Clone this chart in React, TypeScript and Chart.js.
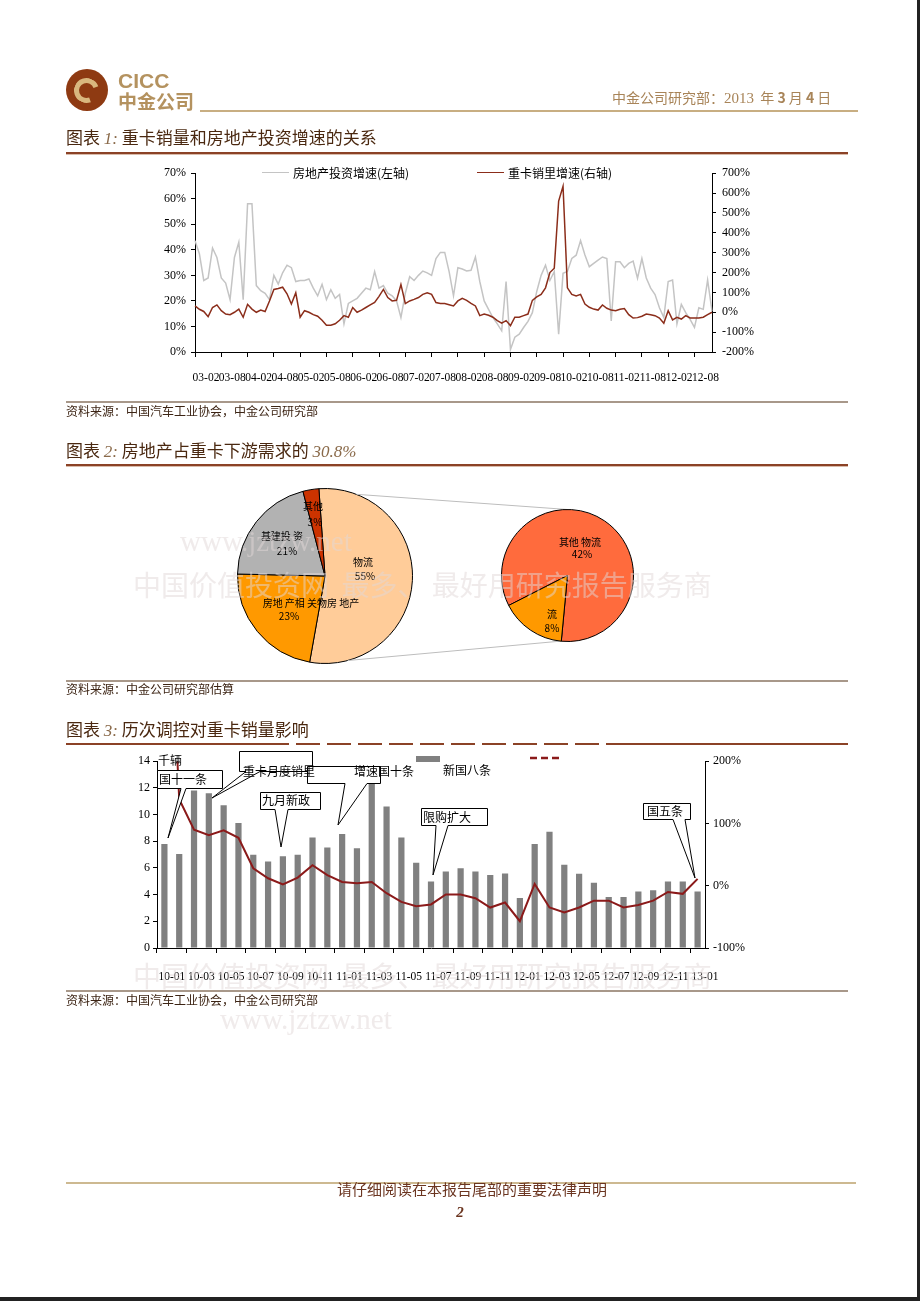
import React, { useEffect, useRef } from "react";
import { Chart, registerables } from "chart.js";

Chart.register(...registerables);

const SERIF = "'Liberation Serif', 'Times New Roman', serif";
const CJK = "'Noto Sans CJK SC', 'Noto Sans', sans-serif";

function buildMonths(y0: number, m0: number, n: number): string[] {
  const out: string[] = [];
  for (let k = 0; k < n; k++) {
    const t = m0 - 1 + k;
    const y = y0 + Math.floor(t / 12);
    const m = (t % 12) + 1;
    out.push(String(y % 100).padStart(2, "0") + "-" + String(m).padStart(2, "0"));
  }
  return out;
}

// ---------- Chart 1: monthly, 2003-02 .. 2012-12 ----------
const c1Months = buildMonths(2003, 2, 119);
const c1TickLabels = ["03-02", "03-08", "04-02", "04-08", "05-02", "05-08", "06-02", "06-08", "07-02", "07-08", "08-02", "08-08", "09-02", "09-08", "10-02", "10-08", "11-02", "11-08", "12-02", "12-08"];
// 房地产投资增速 (left axis, %)
const c1RealEstate = [
  43.6, 38.5, 28, 29, 40.7, 37, 29, 27, 20.5, 37,
  43, 20.5, 58, 58, 26, 24, 23, 20.5, 30, 26.6,
  31, 34, 33, 27.6, 28, 28, 28.6, 25, 22, 26.5,
  20.5, 24.4, 21, 22.5, 11, 19, 20, 21, 23, 25,
  24.4, 31.5, 25, 26, 23, 22, 20, 13.5, 23, 29.5,
  28, 30, 31.7, 31, 30, 36.6, 39, 39, 31.5, 22,
  33, 32.5, 31.7, 32, 37.2, 27.6, 20, 16.7, 13.5, 11,
  8.3, 27.6, 1, 5.8, 7, 9.6, 12, 15.4, 23.7, 30,
  34, 28, 31.5, 7, 30.8, 31.5, 36.6, 37.9, 43.6, 38,
  33.4, 34.7, 36, 37.2, 36.6, 12.2, 35.3, 35.3, 33, 34.7,
  35.6, 28.9, 36.6, 29, 25, 22.5, 17.3, 13.5, 27.6, 28.2,
  11, 18.6, 15.4, 12.8, 9.6, 17.3, 16.7, 28.2, 16,
];
// 重卡销量增速 (right axis, %)
const c1Truck = [
  32, 15, 4, -22, 24, 37, 8, -9, -12, 0,
  16, -25, 40, 16, 0, 11, 4, 57, 115, 120,
  126, 93, 41, 98, -25, 8, 0, -12, -20, -40,
  -65, -65, -58, -40, -17, -25, 24, 0, 11, 24,
  37, 50, 80, 115, 74, 57, 60, 140, 44, 57,
  65, 74, 90, 98, 90, 49, 44, 44, 38, 32,
  57, 70, 60, 45, 32, -17, -9, -15, -25, -42,
  -55, -42, -67, -25, -25, -17, -9, 60, 77, 90,
  123, 200, 222, 560, 634, 123, 90, 82, 90, 41,
  25, 16, 11, 37, 20, 11, 8, 15, 19, -12,
  -29, -27, -20, -9, -12, -17, -29, -55, 8, -38,
  -25, -34, -17, -29, -29, -29, -25, -12, 0,
];
const c1LeftTicks = [0, 10, 20, 30, 40, 50, 60, 70];
const c1RightTicks = [-200, -100, 0, 100, 200, 300, 400, 500, 600, 700];

// ---------- Chart 2: pie of pie ----------
const pie1Labels = ["物流", "房地产", "基建投资", "其他"];
const pie1Values = [55, 23, 21, 3];
const pie1Colors = ["#FFCC99", "#FF9900", "#B2B2B2", "#CC3300"];
const pie2Labels = ["其他物流", "房地产相关物流"];
const pie2Values = [42, 8];
const pie2Colors = ["#FF6B3D", "#FF9900"];

// ---------- Chart 3: monthly 2010-01 .. 2013-01 ----------
const c3Months = buildMonths(2010, 1, 37);
const c3TickLabels = ["10-01", "10-03", "10-05", "10-07", "10-09", "10-11", "11-01", "11-03", "11-05", "11-07", "11-09", "11-11", "12-01", "12-03", "12-05", "12-07", "12-09", "12-11", "13-01"];
// 重卡月度销量 (left axis)
const c3Sales = [
  7.8, 7.05, 11.8, 11.6, 10.7, 9.36, 6.98, 6.48, 6.87, 6.98,
  8.29, 7.54, 8.54, 7.47, 13.2, 10.6, 8.29, 6.38, 4.99, 5.73,
  5.98, 5.73, 5.48, 5.58, 3.75, 7.8, 8.71, 6.23, 5.56, 4.89,
  3.82, 3.82, 4.24, 4.32, 4.99, 4.99, 4.24,
];
// 增速 (right axis, %)
const c3Growth = [
  650, 139, 90, 81, 89, 77, 28, 12, 2, 13,
  33, 17, 6, 4, 6, -12, -26, -33, -30, -14,
  -14, -20, -35, -27, -57, 3, -35, -43, -35, -24,
  -24, -35, -31, -24, -10, -13, 11,
];

const TRANSPARENT = "rgba(0,0,0,0)";

type TxtProps = {
  x: number; y: number; s?: number; c?: string; f?: string; center?: boolean;
  bold?: boolean; italic?: boolean; z?: number; children?: React.ReactNode; style?: React.CSSProperties;
};
function Txt({ x, y, s = 12, c = "#000", f = CJK, center = false, bold = false, italic = false, z = 3, children, style }: TxtProps) {
  return (
    <div
      style={{
        position: "absolute",
        left: x,
        top: y - s * 0.65,
        fontSize: s,
        lineHeight: `${s * 1.3}px`,
        color: c,
        fontFamily: f,
        whiteSpace: "pre",
        fontWeight: bold ? "bold" : "normal",
        fontStyle: italic ? "italic" : "normal",
        transform: center ? "translateX(-50%)" : undefined,
        zIndex: z,
        ...style,
      }}
    >
      {children}
    </div>
  );
}

function Line({ x, y, w, h, c }: { x: number; y: number; w: number; h: number; c: string }) {
  return <div style={{ position: "absolute", left: x, top: y, width: w, height: h, background: c, zIndex: 2 }} />;
}

const WM = "rgba(226,216,216,0.5)";

export default function App() {
  const c1Ref = useRef<HTMLCanvasElement>(null);
  const p1Ref = useRef<HTMLCanvasElement>(null);
  const p2Ref = useRef<HTMLCanvasElement>(null);
  const c3Ref = useRef<HTMLCanvasElement>(null);

  useEffect(() => {
    const charts: Chart[] = [];
    const xFont = { family: SERIF, size: 11.5 };
    const yFont = { family: SERIF, size: 12 };

    // Chart 1
    charts.push(
      new Chart(c1Ref.current as HTMLCanvasElement, {
        type: "line",
        data: {
          labels: c1Months,
          datasets: [
            { label: "重卡销量增速(右轴)", data: c1Truck, yAxisID: "y2", borderColor: "#8B2D1A", borderWidth: 1.5, pointRadius: 0, tension: 0 },
            { label: "房地产投资增速(左轴)", data: c1RealEstate, yAxisID: "y", borderColor: "#C4C4C4", borderWidth: 1.5, pointRadius: 0, tension: 0 },
          ],
        },
        options: {
          responsive: false,
          animation: false,
          devicePixelRatio: 1,
          layout: { padding: { top: 10, left: 0, right: 0, bottom: 0 } },
          plugins: { legend: { display: false }, tooltip: { enabled: false } },
          scales: {
            x: {
              type: "category",
              offset: false,
              grid: {
                display: true,
                drawOnChartArea: false,
                drawTicks: true,
                tickLength: 5,
                color: (ctx: any) => (ctx.index % 6 === 0 ? "#000" : TRANSPARENT),
              },
              border: { display: true, color: "#000", width: 1 },
              ticks: {
                autoSkip: false,
                maxRotation: 0,
                minRotation: 0,
                labelOffset: 11,
                padding: 14,
                color: "#000",
                font: xFont,
                callback: (_v: any, i: number) => (i % 6 === 0 ? c1TickLabels[i / 6] || "" : ""),
              },
              afterFit: (s: any) => { s.height = 38; },
            },
            y: {
              position: "left",
              min: c1LeftTicks[0],
              max: c1LeftTicks[c1LeftTicks.length - 1],
              grid: { drawOnChartArea: false, tickLength: 4, color: "#000" },
              border: { display: true, color: "#000", width: 1 },
              ticks: { stepSize: 10, padding: 5, color: "#000", font: yFont, callback: (v: any) => v + "%" },
              afterFit: (s: any) => { s.width = 45; },
            },
            y2: {
              position: "right",
              min: c1RightTicks[0],
              max: c1RightTicks[c1RightTicks.length - 1],
              grid: { drawOnChartArea: false, tickLength: 4, color: "#000" },
              border: { display: true, color: "#000", width: 1 },
              ticks: { stepSize: 100, padding: 6, color: "#000", font: yFont, callback: (v: any) => v + "%" },
              afterFit: (s: any) => { s.width = 58; },
            },
          },
        } as any,
      })
    );

    // Pie 1
    const pie1 = new Chart(p1Ref.current as HTMLCanvasElement, {
      type: "pie",
      data: {
        labels: pie1Labels,
        datasets: [{ data: pie1Values, backgroundColor: pie1Colors, borderColor: "#000", borderWidth: 1 }],
      },
      options: {
        responsive: false,
        animation: false,
        devicePixelRatio: 1,
        rotation: -4,
        layout: { padding: { left: 17, right: 247, top: 8, bottom: 16 } },
        plugins: { legend: { display: false }, tooltip: { enabled: false } },
      } as any,
    });
    charts.push(pie1);

    const connectorPlugin = {
      id: "connector",
      beforeDatasetsDraw(chart: any) {
        const a1: any = pie1.getDatasetMeta(0).data[0];
        const a2: any = chart.getDatasetMeta(0).data[0];
        if (!a1 || !a2) return;
        const pt = (x: number, y: number, r: number, deg: number) => [
          x + r * Math.sin((deg * Math.PI) / 180),
          y - r * Math.cos((deg * Math.PI) / 180),
        ];
        const ctx = chart.ctx;
        ctx.save();
        ctx.strokeStyle = "#BDBDBD";
        ctx.lineWidth = 1;
        const t1 = pt(a1.x, a1.y, a1.outerRadius, 21);
        const t2 = pt(a2.x, a2.y, a2.outerRadius, 0);
        const b1 = pt(a1.x, a1.y, a1.outerRadius, 165);
        const b2 = pt(a2.x, a2.y, a2.outerRadius, 186);
        ctx.beginPath();
        ctx.moveTo(t1[0], t1[1]);
        ctx.lineTo(t2[0], t2[1]);
        ctx.moveTo(b1[0], b1[1]);
        ctx.lineTo(b2[0], b2[1]);
        ctx.stroke();
        ctx.restore();
      },
    };

    charts.push(
      new Chart(p2Ref.current as HTMLCanvasElement, {
        type: "pie",
        data: {
          labels: pie2Labels,
          datasets: [{ data: pie2Values, backgroundColor: pie2Colors, borderColor: "#000", borderWidth: 1 }],
        },
        options: {
          responsive: false,
          animation: false,
          devicePixelRatio: 1,
          rotation: 243,
          layout: { padding: { left: 281, right: 26, top: 29, bottom: 38 } },
          plugins: { legend: { display: false }, tooltip: { enabled: false } },
        } as any,
        plugins: [connectorPlugin],
      })
    );

    // Chart 3
    charts.push(
      new Chart(c3Ref.current as HTMLCanvasElement, {
        type: "bar",
        data: {
          labels: c3Months,
          datasets: [
            { type: "line", label: "增速", data: c3Growth, yAxisID: "y2", borderColor: "#8B1A1A", borderWidth: 2, pointRadius: 0, tension: 0, order: 0 } as any,
            { type: "bar", label: "重卡月度销量", data: c3Sales, yAxisID: "y", backgroundColor: "#808080", barPercentage: 0.42, categoryPercentage: 1, order: 1 } as any,
          ],
        },
        options: {
          responsive: false,
          animation: false,
          devicePixelRatio: 1,
          layout: { padding: { top: 10, left: 0, right: 0, bottom: 0 } },
          plugins: { legend: { display: false }, tooltip: { enabled: false } },
          scales: {
            x: {
              type: "category",
              offset: true,
              grid: {
                display: true,
                offset: true,
                drawOnChartArea: false,
                drawTicks: true,
                tickLength: 5,
                color: (ctx: any) => (ctx.index % 2 === 0 ? "#000" : TRANSPARENT),
              },
              border: { display: true, color: "#000", width: 1 },
              ticks: {
                autoSkip: false,
                maxRotation: 0,
                minRotation: 0,
                labelOffset: 7.4,
                padding: 17,
                color: "#000",
                font: xFont,
                callback: (_v: any, i: number) => (i % 2 === 0 ? c3TickLabels[i / 2] || "" : ""),
              },
              afterFit: (s: any) => { s.height = 42; },
            },
            y: {
              position: "left",
              min: 0,
              max: 14,
              grid: { drawOnChartArea: false, tickLength: 4, color: "#000" },
              border: { display: true, color: "#000", width: 1 },
              ticks: { stepSize: 2, padding: 3, color: "#000", font: yFont },
              afterFit: (s: any) => { s.width = 47; },
            },
            y2: {
              position: "right",
              min: -100,
              max: 200,
              grid: { drawOnChartArea: false, tickLength: 4, color: "#000" },
              border: { display: true, color: "#000", width: 1 },
              ticks: { stepSize: 100, padding: 4, color: "#000", font: yFont, callback: (v: any) => v + "%" },
              afterFit: (s: any) => { s.width = 45; },
            },
          },
        } as any,
      })
    );

    return () => charts.forEach((c) => c.destroy());
  }, []);

  const titleColor = "#4A2810";
  const srcColor = "#3C2414";

  return (
    <div style={{ position: "absolute", left: 0, top: 0, width: 920, height: 1301, background: "#fff", overflow: "hidden", fontFamily: CJK }}>
      {/* Logo */}
      <div style={{ position: "absolute", left: 66, top: 69, width: 42, height: 42, borderRadius: "50%", background: "#8E3A12" }}>
        <div style={{ position: "absolute", left: 8, top: 9, width: 15, height: 15, borderRadius: "50%", border: "5px solid #D9B77E", borderRightColor: "transparent", transform: "rotate(25deg)" }} />
      </div>
      <Txt x={118} y={81} s={21} c="#B4925F" f="'Liberation Sans', Arial, sans-serif" bold>CICC</Txt>
      <Txt x={118} y={101} s={19} c="#B4925F" bold>中金公司</Txt>
      <Line x={200} y={110} w={658} h={2} c="#C8AE82" />
      <div style={{ position: "absolute", left: 612, top: 87, fontSize: 14, lineHeight: "20px", color: "#A88458", whiteSpace: "pre", zIndex: 3 }}>
        中金公司研究部：<span style={{ fontFamily: SERIF, fontSize: 15 }}>2013</span>  年 <b>3</b> 月 <b>4</b> 日
      </div>

      {/* Title 1 */}
      <div style={{ position: "absolute", left: 66, top: 126, fontSize: 17, lineHeight: "22px", color: titleColor, whiteSpace: "pre", zIndex: 3 }}>
        图表 <span style={{ fontFamily: SERIF, fontStyle: "italic", color: "#8A6A4A" }}>1:</span> 重卡销量和房地产投资增速的关系
      </div>
      <Line x={66} y={152} w={782} h={2} c="#8B4226" />
      <Line x={66} y={154} w={782} h={1} c="#D9BBAA" />

      {/* Chart 1 */}
      <canvas ref={c1Ref} width={620} height={230} style={{ position: "absolute", left: 150, top: 160, width: 620, height: 230, zIndex: 1 }} />
      <div style={{ position: "absolute", left: 262, top: 172, width: 27, height: 0, borderTop: "1.5px solid #C4C4C4", zIndex: 3 }} />
      <Txt x={293} y={173} s={12}>房地产投资增速(左轴)</Txt>
      <div style={{ position: "absolute", left: 477, top: 172, width: 27, height: 0, borderTop: "1.5px solid #8B2D1A", zIndex: 3 }} />
      <Txt x={508} y={173} s={12}>重卡销里增速(右轴)</Txt>

      <Line x={66} y={401} w={782} h={2} c="#A8988A" />
      <Txt x={66} y={411} s={12} c={srcColor}>资料来源：中国汽车工业协会，中金公司研究部</Txt>

      {/* Title 2 */}
      <div style={{ position: "absolute", left: 66, top: 439, fontSize: 17, lineHeight: "22px", color: titleColor, whiteSpace: "pre", zIndex: 3 }}>
        图表 <span style={{ fontFamily: SERIF, fontStyle: "italic", color: "#8A6A4A" }}>2:</span> 房地产占重卡下游需求的 <span style={{ fontFamily: SERIF, fontStyle: "italic", color: "#8A6A4A" }}>30.8%</span>
      </div>
      <Line x={66} y={464} w={782} h={2} c="#8B4226" />
      <Line x={66} y={466} w={782} h={1} c="#D9BBAA" />

      {/* Pies */}
      <canvas ref={p1Ref} width={440} height={200} style={{ position: "absolute", left: 220, top: 480, width: 440, height: 200, zIndex: 1 }} />
      <canvas ref={p2Ref} width={440} height={200} style={{ position: "absolute", left: 220, top: 480, width: 440, height: 200, zIndex: 1 }} />
      <Txt x={313} y={505} s={10} center>其他</Txt>
      <Txt x={315} y={521} s={10} center>3%</Txt>
      <Txt x={282} y={535} s={10} center>基建投 资</Txt>
      <Txt x={287} y={550} s={10} center>21%</Txt>
      <Txt x={363} y={561} s={10} center>物流</Txt>
      <Txt x={365} y={575} s={10} center>55%</Txt>
      <Txt x={311} y={602} s={10} center>房地 产相 关物房 地产</Txt>
      <Txt x={289} y={615} s={10} center>23%</Txt>
      <Txt x={580} y={541} s={10} center>其他 物流</Txt>
      <Txt x={582} y={553} s={10} center>42%</Txt>
      <Txt x={552} y={613} s={10} center>流</Txt>
      <Txt x={552} y={627} s={10} center>8%</Txt>

      <Line x={66} y={680} w={782} h={2} c="#A8988A" />
      <Txt x={66} y={689} s={12} c={srcColor}>资料来源：中金公司研究部估算</Txt>

      {/* Title 3 */}
      <div style={{ position: "absolute", left: 66, top: 718, fontSize: 17, lineHeight: "22px", color: titleColor, whiteSpace: "pre", zIndex: 3 }}>
        图表 <span style={{ fontFamily: SERIF, fontStyle: "italic", color: "#8A6A4A" }}>3:</span> 历次调控对重卡销量影响
      </div>
      <Line x={66} y={743} w={782} h={2} c="#8B4226" />
      <div style={{ position: "absolute", left: 265, top: 742, width: 345, height: 4, zIndex: 2, background: "repeating-linear-gradient(90deg, rgba(255,255,255,0) 0px, rgba(255,255,255,0) 24px, #fff 24px, #fff 31px)" }} />

      {/* Chart 3 */}
      <canvas ref={c3Ref} width={640} height={240} style={{ position: "absolute", left: 110, top: 750, width: 640, height: 240, zIndex: 1 }} />
      <svg width={920} height={1301} style={{ position: "absolute", left: 0, top: 0, zIndex: 2, pointerEvents: "none" }}>
        <g fill="#fff" stroke="#000" strokeWidth={1}>
          <path d="M239.5,751.5 H312.5 V771.5 H260 L212,798 L246,771.5 H239.5 Z" />
          <path d="M307.5,766.5 H380.5 V783.5 H367 L338,825 L345,783.5 H307.5 Z" />
          <path d="M157.5,770.5 H222.5 V788.5 H186 L168,838 L181,788.5 H157.5 Z" />
          <path d="M260.5,792.5 H320.5 V809.5 H288 L281,847 L275,809.5 H260.5 Z" />
          <path d="M421.5,808.5 H487.5 V825.5 H448 L433,875 L436,825.5 H421.5 Z" />
          <path d="M643.5,803.5 H690.5 V819.5 H685 L695,878 L673,819.5 H643.5 Z" />
        </g>
        <rect x={416} y={756} width={24} height={6} fill="#808080" />
        <line x1={530} y1={758} x2={561} y2={758} stroke="#8B1A1A" strokeWidth={2.5} strokeDasharray="7,4" />
      </svg>
      <Txt x={158} y={760} s={12}>千辆</Txt>
      <Txt x={159} y={779} s={12}>国十一条</Txt>
      <Txt x={243} y={771} s={12}>重卡月度销里</Txt>
      <Txt x={354} y={771} s={12}>增速国十条</Txt>
      <Txt x={443} y={770} s={12}>新国八条</Txt>
      <Txt x={262} y={800} s={12}>九月新政</Txt>
      <Txt x={423} y={817} s={12}>限购扩大</Txt>
      <Txt x={647} y={811} s={12}>国五条</Txt>

      <Line x={66} y={990} w={782} h={2} c="#A8988A" />
      <Txt x={66} y={1000} s={12} c={srcColor}>资料来源：中国汽车工业协会，中金公司研究部</Txt>

      {/* Watermarks */}
      <Txt x={180} y={542} s={29} c={WM} f={SERIF} z={5}>www.jztzw.net</Txt>
      <Txt x={133} y={584} s={28} c={WM} z={5}>中国价值投资网  最多、 最好用研究报告服务商</Txt>
      <Txt x={133} y={975} s={28} c={WM} z={5}>中国价值投资网  最多、 最好用研究报告服务商</Txt>
      <Txt x={220} y={1020} s={29} c={WM} f={SERIF} z={5}>www.jztzw.net</Txt>

      {/* Footer */}
      <Line x={66} y={1182} w={790} h={2} c="#CDB991" />
      <Txt x={472} y={1189} s={15} c="#6B3520" center>请仔细阅读在本报告尾部的重要法律声明</Txt>
      <Txt x={460} y={1213} s={15} c="#6B3520" f={SERIF} bold italic center>2</Txt>

      {/* Page frame */}
      <div style={{ position: "absolute", left: 917, top: 0, width: 3, height: 1301, background: "#222", zIndex: 6 }} />
      <div style={{ position: "absolute", left: 0, top: 1297, width: 920, height: 4, background: "#222", zIndex: 6 }} />
    </div>
  );
}
